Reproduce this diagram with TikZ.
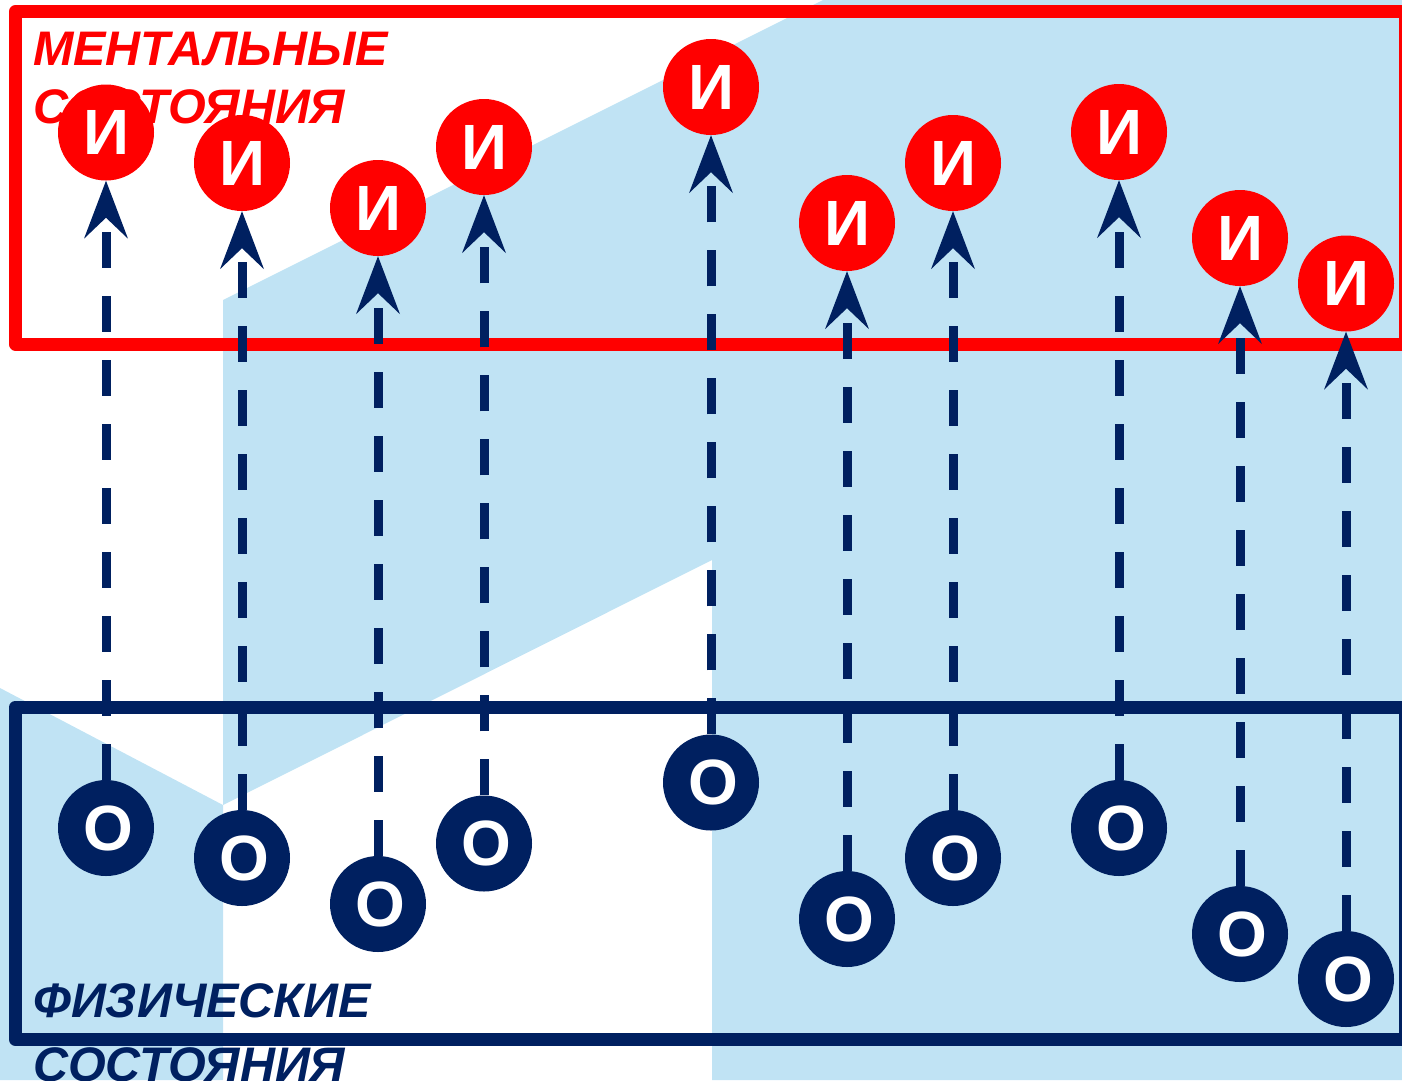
\documentclass[tikz,border=0pt]{standalone}
\usepackage{fontspec}
\setmainfont{Liberation Sans}
\usetikzlibrary{arrows.meta}
\definecolor{navy}{RGB}{0,32,96}
\definecolor{lblue}{RGB}{192,227,244}
\definecolor{redA}{RGB}{255,0,0}
\begin{document}
\begin{tikzpicture}[x=1pt,y=-1pt,
  inode/.style={circle,fill=redA,minimum size=96pt,inner sep=0pt,text=white,font=\fontsize{64}{64}\selectfont\bfseries},
  onode/.style={circle,fill=navy,minimum size=96pt,inner sep=0pt,text=white,font=\fontsize{64}{64}\selectfont\bfseries},
  conn/.style={draw=navy,line width=9pt,dash pattern=on 36pt off 28pt,-{Stealth[length=58pt,width=44pt,inset=21pt,line width=0pt]}},
  frame/.style={line width=13pt,line join=round},
  title/.style={anchor=base west,inner sep=0pt,font=\fontsize{48.5}{58}\selectfont\bfseries\itshape}]
\useasboundingbox (0,0) rectangle (1402,1080);
% background
\fill[lblue] (223,300) -- (823,0) -- (1402,0) -- (1402,1080) -- (712,1080) -- (712,560) -- (223,805) -- cycle;
\fill[lblue] (0,688) -- (223,805) -- (223,1080) -- (0,1080) -- cycle;
% frames
\draw[frame,draw=redA] (15.5,11.5) rectangle (1405.5,344);
\draw[frame,draw=navy] (15.5,707) rectangle (1405.5,1039.5);
% titles
\node[title,text=redA] (mt1) at (33,65) {МЕНТАЛЬНЫЕ};
\node[title,text=redA] (mt2) at (33,123) {СОСТОЯНИЯ};
\node[title,text=navy] (ft1) at (33,1017) {ФИЗИЧЕСКИЕ};
\node[title,text=navy] (ft2) at (33,1081) {СОСТОЯНИЯ};
% mental states
\node[inode] (i1) at (106,132.5) {И};
\node[inode] (i2) at (242,163) {И};
\node[inode] (i3) at (378,208) {И};
\node[inode] (i4) at (484,147) {И};
\node[inode] (i5) at (711,87) {И};
\node[inode] (i6) at (847,223) {И};
\node[inode] (i7) at (953,163) {И};
\node[inode] (i8) at (1119,132) {И};
\node[inode] (i9) at (1240,238) {И};
\node[inode] (i10) at (1346,283.5) {И};
% physical states
\node[onode] (o1) at (106,828) {\hspace*{5pt}О};
\node[onode] (o2) at (242,858) {\hspace*{5pt}О};
\node[onode] (o3) at (378,904) {\hspace*{5pt}О};
\node[onode] (o4) at (484,843.5) {\hspace*{5pt}О};
\node[onode] (o5) at (711,782.5) {\hspace*{5pt}О};
\node[onode] (o6) at (847,919) {\hspace*{5pt}О};
\node[onode] (o7) at (953,858) {\hspace*{5pt}О};
\node[onode] (o8) at (1119,828) {\hspace*{5pt}О};
\node[onode] (o9) at (1240,934) {\hspace*{5pt}О};
\node[onode] (o10) at (1346,979) {\hspace*{5pt}О};
% connectors
\foreach \k in {1,...,10} {\draw[conn] (o\k) -- (i\k);}
\end{tikzpicture}
\end{document}
